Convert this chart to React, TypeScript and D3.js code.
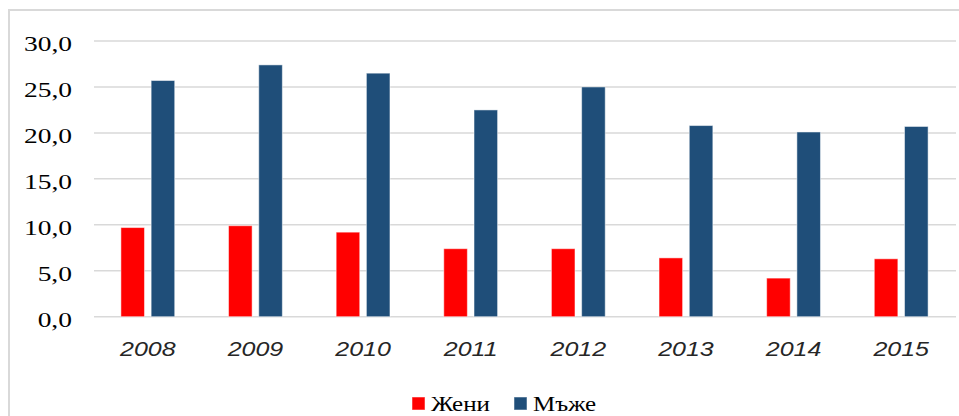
import React from "react";
import * as d3 from "d3";

const years = ["2008", "2009", "2010", "2011", "2012", "2013", "2014", "2015"];
const seriesNames = ["Жени", "Мъже"];
const women = [9.7, 9.9, 9.2, 7.4, 7.4, 6.4, 4.2, 6.3];
const men = [25.7, 27.4, 26.5, 22.5, 25.0, 20.8, 20.1, 20.7];
const yTicks = [0, 5, 10, 15, 20, 25, 30];
const colors = ["#FF0000", "#1F4E79"];

const W = 959;
const H = 416;
const SX = 1.25;

export default function App() {
  const x0 = d3.scaleBand<string>().domain(years).range([94, 955]).paddingInner(0.5).paddingOuter(0.25);
  const x1 = d3.scaleBand<string>().domain(seriesNames).range([0, x0.bandwidth()]).paddingInner(0.22);
  const y = d3.scaleLinear().domain([0, 30]).range([316.7, 41]);
  const fmt = (v: number) => d3.format(".1f")(v).replace(".", ",");
  const data = [women, men];

  return (
    <svg width={W} height={H} style={{ position: "absolute", left: 0, top: 0, background: "#fff" }}>
      <rect x={9} y={10} width={980} height={440} fill="#fff" stroke="#d9d9d9" strokeWidth={2} />
      {yTicks.map((t) => (
        <g key={t}>
          <line x1={94} x2={956} y1={y(t)} y2={y(t)} stroke="#d9d9d9" strokeWidth={1.5} />
          <text
            transform={`translate(72,${y(t) + 10}) scale(${SX},1)`}
            textAnchor="end"
            fontFamily="'Liberation Serif', 'Times New Roman', serif"
            fontSize={22}
            fill="#000"
          >
            {fmt(t)}
          </text>
        </g>
      ))}
      {years.map((yr, i) => (
        <g key={yr} transform={`translate(${x0(yr)},0)`}>
          {seriesNames.map((s, j) => (
            <rect
              key={s}
              x={x1(s)}
              y={y(data[j][i])}
              width={x1.bandwidth()}
              height={y(0) - y(data[j][i])}
              fill={colors[j]}
              stroke="rgba(255,255,255,0.5)"
              strokeWidth={1}
            />
          ))}
          <text
            transform={`translate(${x0.bandwidth() / 2},356) scale(${SX},1)`}
            textAnchor="middle"
            fontFamily="'Liberation Sans', Arial, sans-serif"
            fontStyle="italic"
            fontSize={20}
            fill="#262626"
          >
            {yr}
          </text>
        </g>
      ))}
      {seriesNames.map((s, j) => {
        const lx = j === 0 ? 412 : 514;
        return (
          <g key={s}>
            <rect x={lx} y={397} width={13} height={13} fill={colors[j]} stroke="rgba(255,255,255,0.5)" strokeWidth={1} />
            <text
              transform={`translate(${lx + 19},411) scale(${SX},1)`}
              fontFamily="'Liberation Serif', 'Times New Roman', serif"
              fontSize={20}
              fill="#000"
            >
              {s}
            </text>
          </g>
        );
      })}
    </svg>
  );
}
